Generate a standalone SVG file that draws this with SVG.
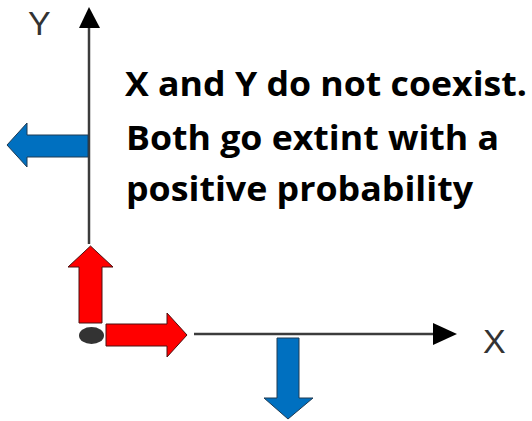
<svg xmlns="http://www.w3.org/2000/svg" width="532" height="421" viewBox="0 0 532 421">
<style>
.axis{stroke:#3c3c3c;stroke-width:2.5;fill:none}
.head{fill:#000}
.blue{fill:#0070c0;stroke:#1f3a52;stroke-width:1}
.red{fill:#ff0000;stroke:#4a1010;stroke-width:1}
.lbl{font-family:"Liberation Sans",Arial,sans-serif;font-size:34px;fill:#333}
.txt{font-family:"Open Sans",Lato,sans-serif;font-weight:700;font-size:34px;fill:#000}
</style>
<rect width="532" height="421" fill="#fff"/>
<g id="connectors">
<line class="axis" x1="89" y1="244" x2="89" y2="26"/>
<polygon class="head" points="89,7 79,28 100,28"/>
<line class="axis" x1="194" y1="334" x2="436" y2="334"/>
<polygon class="head" points="457,334 433,323 433,345"/>
</g>
<g id="label-y"><text class="lbl" x="28" y="35">Y</text></g>
<g id="label-x"><text class="lbl" x="483" y="353">X</text></g>
<g id="arrow-left-blue"><polygon class="blue" points="88,135 27,135 27,123 7,145 27,167 27,157 88,157"/></g>
<g id="arrow-down-blue"><polygon class="blue" points="277,338 299,338 299,398 313,398 288,419 264,398 277,398"/></g>
<g id="arrow-up-red"><polygon class="red" points="79,323 79,267 68,267 90.5,246 113,267 102,267 102,323"/></g>
<g id="arrow-right-red"><polygon class="red" points="106,324 167,324 167,313 187,335 167,357 167,346 106,346"/></g>
<g id="origin"><ellipse cx="91.5" cy="335.5" rx="12.5" ry="8.5" fill="#333"/></g>
<g id="caption">
<text class="txt" x="125" y="96" textLength="402" lengthAdjust="spacingAndGlyphs">X and Y do not coexist.</text>
<text class="txt" x="126" y="150" textLength="373" lengthAdjust="spacingAndGlyphs">Both go extint with a</text>
<text class="txt" x="126" y="201" textLength="347" lengthAdjust="spacingAndGlyphs">positive probability</text>
</g>
</svg>
